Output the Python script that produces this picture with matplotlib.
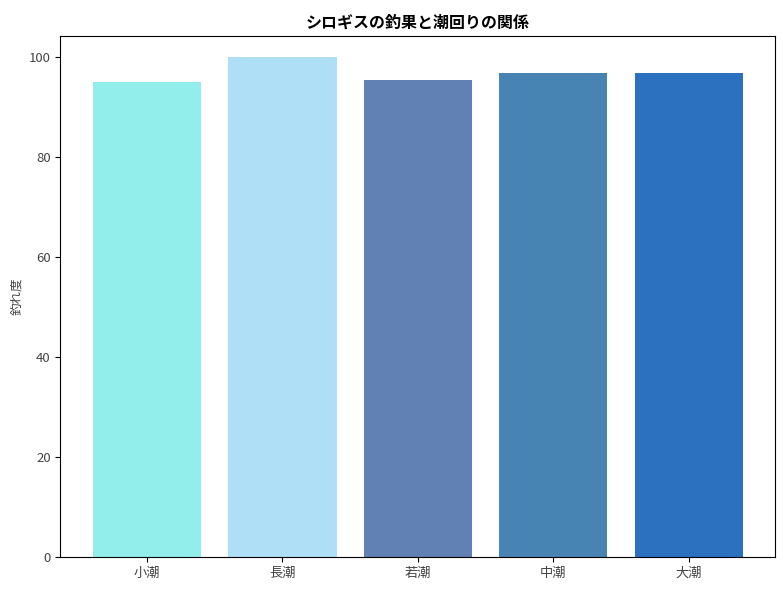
import matplotlib
matplotlib.use("Agg")
import matplotlib.pyplot as plt

plt.rcParams['font.family'] = ['Noto Sans CJK JP', 'DejaVu Sans']

tides = ["小潮", "長潮", "若潮", "中潮", "大潮"]
scores = [95.0, 100.0, 95.4, 96.8, 96.8]
colors = ["#92EEEB", "#AFDFF7", "#6180B3", "#4784B4", "#2C70C0"]

fig, ax = plt.subplots(figsize=(7.84, 5.9), dpi=100)
ax.bar(tides, scores, color=colors, width=0.8)
ax.set_ylim(0, 104.2)
ax.set_title("シロギスの釣果と潮回りの関係", fontsize=11.5, fontweight="bold")
ax.set_ylabel("釣れ度", fontsize=9, color="#444444")
ax.tick_params(labelsize=9.5, labelcolor="#444444")
plt.subplots_adjust(left=0.077, right=0.989, top=0.939, bottom=0.056)
fig.savefig("out.png", dpi=100)
